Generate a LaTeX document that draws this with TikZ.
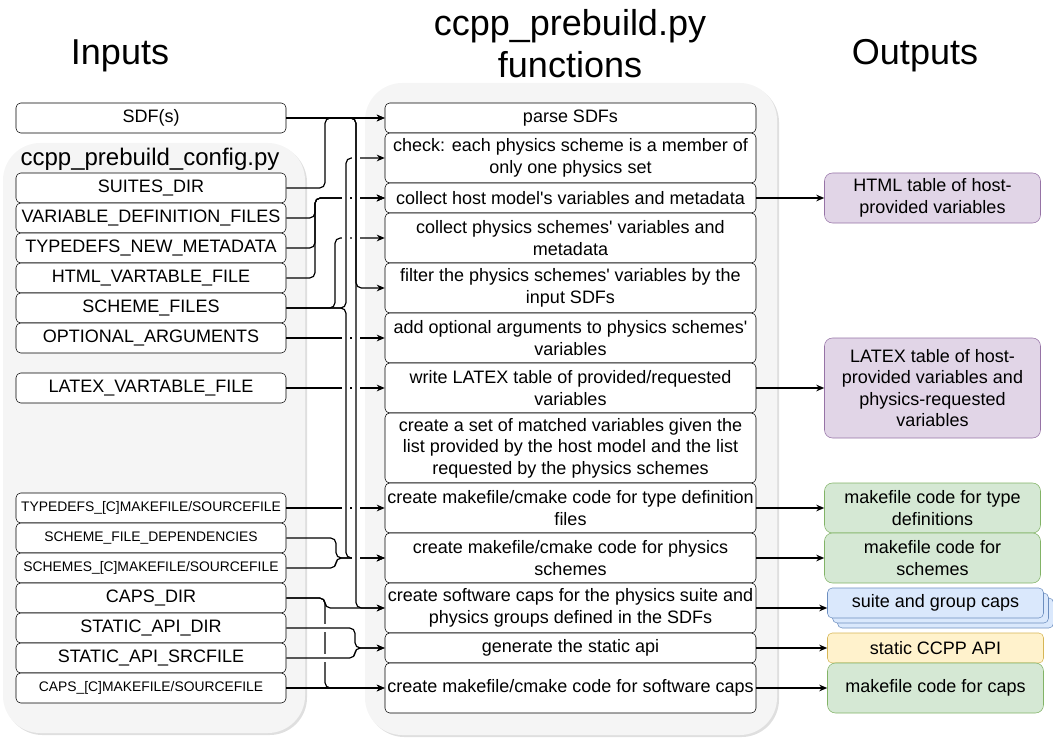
\documentclass[tikz,border=0pt]{standalone}
\usepackage{fontspec}
\setmainfont{Liberation Sans}
\usepackage{tikz}
\usetikzlibrary{arrows.meta, shadows}

\definecolor{panel}{HTML}{F5F5F5}
\definecolor{purplefill}{HTML}{E1D5E7}
\definecolor{purpleline}{HTML}{9673A6}
\definecolor{greenfill}{HTML}{D5E8D4}
\definecolor{greenline}{HTML}{82B366}
\definecolor{bluefill}{HTML}{DAE8FC}
\definecolor{blueline}{HTML}{6C8EBF}
\definecolor{yellowfill}{HTML}{FFF2CC}
\definecolor{yellowline}{HTML}{D6B656}

\begin{document}
\begin{tikzpicture}[x=0.75pt, y=-0.75pt,
  txt/.style={font=\fontsize{13.5}{16.2}\selectfont},
  small/.style={font=\fontsize{10.4}{12.5}\selectfont},
  title/.style={font=\fontsize{27}{31.5}\selectfont, align=center, inner sep=0pt},
  panelbox/.style={fill=panel, rounded corners=28pt, drop shadow={shadow xshift=1.5pt, shadow yshift=-1.5pt, opacity=.25}},
  inbox/.style={draw, fill=white, rounded corners=3.5pt, minimum width=202.5pt, minimum height=22.5pt, inner sep=0pt, txt},
  fnbox/.style={draw, fill=white, rounded corners=3.5pt, minimum width=278.25pt, minimum height=22.5pt, inner sep=0pt, align=center, txt},
  outbox/.style={draw, rounded corners=6pt, minimum width=162pt, inner sep=0pt, align=center, txt},
  htmlbox/.style={outbox, fill=purplefill, draw=purpleline},
  codebox/.style={outbox, fill=greenfill, draw=greenline},
  capsbox/.style={outbox, fill=bluefill, draw=blueline, rounded corners=3.5pt, minimum height=22.5pt},
  apibox/.style={outbox, fill=yellowfill, draw=yellowline, rounded corners=3.5pt, minimum height=22.5pt},
  link/.style={-{Stealth[length=6pt,width=5pt]}, rounded corners=4pt, line width=0.9pt},
  hop/.style={white, line width=3pt}
]
\useasboundingbox (0,0) rectangle (1053,738);

\fill[panelbox] (3,143) rectangle (305,733);
\fill[panelbox] (365,83) rectangle (777,735);

\node[title, anchor=base] (intitle) at (120,65) {Inputs};
\node[title, anchor=base] (outtitle) at (915,65) {Outputs};
\node[title, anchor=north] (fntitle) at (570,9) {ccpp\_prebuild.py\\functions};
\node[anchor=base, inner sep=0pt, font=\fontsize{18}{21}\selectfont] (cfgtitle) at (150,166) {ccpp\_prebuild\_config.py};

\node[inbox] (sdf) at (151,118) {SDF(s)};
\node[inbox] (suites) at (151,188) {SUITES\_DIR};
\node[inbox] (vardef) at (151,218) {VARIABLE\_DEFINITION\_FILES};
\node[inbox] (tdmeta) at (151,248) {TYPEDEFS\_NEW\_METADATA};
\node[inbox] (htmlfile) at (151,278) {HTML\_VARTABLE\_FILE};
\node[inbox] (schemes) at (151,308) {SCHEME\_FILES};
\node[inbox] (optargs) at (151,338) {OPTIONAL\_ARGUMENTS};
\node[inbox] (latexfile) at (151,388) {LATEX\_VARTABLE\_FILE};
\node[inbox, small] (tdmake) at (151,508) {TYPEDEFS\_[C]MAKEFILE/SOURCEFILE};
\node[inbox, small] (schdeps) at (151,538) {SCHEME\_FILE\_DEPENDENCIES};
\node[inbox, small] (schmake) at (151,568) {SCHEMES\_[C]MAKEFILE/SOURCEFILE};
\node[inbox] (capsdir) at (151,598) {CAPS\_DIR};
\node[inbox] (apidir) at (151,628) {STATIC\_API\_DIR};
\node[inbox] (apisrc) at (151,658) {STATIC\_API\_SRCFILE};
\node[inbox, small] (capsmake) at (151,688) {CAPS\_[C]MAKEFILE/SOURCEFILE};

\node[fnbox] (parse) at (570.5,118) {parse SDFs};
\node[fnbox, minimum height=37.5pt] (check) at (570.5,158) {check: each physics scheme is a member of\\only one physics set};
\node[fnbox] (hostvars) at (570.5,198) {collect host model\textquotesingle s variables and metadata};
\node[fnbox, minimum height=37.5pt] (physvars) at (570.5,238) {collect physics schemes\textquotesingle{} variables and\\metadata};
\node[fnbox, minimum height=37.5pt] (filter) at (570.5,288) {filter the physics schemes\textquotesingle{} variables by the\\input SDFs};
\node[fnbox, minimum height=37.5pt] (addopt) at (570.5,338) {add optional arguments to physics schemes\textquotesingle\\variables};
\node[fnbox, minimum height=37.5pt] (writelatex) at (570.5,388) {write LATEX table of provided/requested\\variables};
\node[fnbox, minimum height=52.5pt] (matched) at (570.5,448) {create a set of matched variables given the\\list provided by the host model and the list\\requested by the physics schemes};
\node[fnbox, minimum height=37.5pt] (mktype) at (570.5,508) {create makefile/cmake code for type definition\\files};
\node[fnbox, minimum height=37.5pt] (mkphys) at (570.5,558) {create makefile/cmake code for physics\\schemes};
\node[fnbox, minimum height=37.5pt] (swcaps) at (570.5,608) {create software caps for the physics suite and\\physics groups defined in the SDFs};
\node[fnbox] (static) at (570.5,648) {generate the static api};
\node[fnbox, minimum height=37.5pt] (mkcaps) at (570.5,688) {create makefile/cmake code for software caps};

\node[htmlbox, minimum height=37.5pt] (htmlout) at (932.5,198) {HTML table of host-\\provided variables};
\node[htmlbox, minimum height=75pt] (latexout) at (932.5,388) {LATEX table of host-\\provided variables and\\physics-requested\\variables};
\node[codebox, minimum height=37.5pt] (typeout) at (932.5,508) {makefile code for type\\definitions};
\node[codebox, minimum height=37.5pt] (physout) at (932.5,558) {makefile code for\\schemes};
\node[capsbox] (capsback) at (945.5,613) {};
\node[capsbox] (capsmid) at (940.5,608) {};
\node[capsbox] (capsout) at (935.5,603) {suite and group caps};
\node[apibox] (apiout) at (935.5,648) {static CCPP API};
\node[codebox, minimum height=37.5pt] (capscode) at (935.5,688) {makefile code for caps};

\draw[link] (optargs.east) -- (addopt.west);
\draw[link] (latexfile.east) -- (writelatex.west);
\draw[link] (tdmake.east) -- (mktype.west);
\foreach \f in {vardef, tdmeta, htmlfile}
  \draw[link] (\f.east) -| (315,198) -- (hostvars.west);
\draw[link] (schemes.east) -| (335,238) -- (physvars.west);

\foreach \y in {198, 238, 338, 388, 508}
  \draw[hop] (342,\y) -- (350,\y);
\draw[link] (schemes.east) -| (346,158) -- (check.west);
\draw[link] (schemes.east) -| (346,558) -- (mkphys.west);
\draw[link] (schdeps.east) -| (336,558) -- (mkphys.west);
\draw[link] (schmake.east) -| (336,558) -- (mkphys.west);

\foreach \y in {158, 198, 238, 338, 388, 508, 558}
  \draw[hop] (352,\y) -- (360,\y);
\draw[link] (sdf.east) -- (parse.west);
\draw[link] (sdf.east) -| (356,288) -- (filter.west);
\draw[link] (sdf.east) -| (356,608) -- (swcaps.west);
\draw[link] (suites.east) -| (325,118) -- (parse.west);

\draw[link] (capsdir.east) -| (325,608) -- (swcaps.west);
\draw[link] (capsdir.east) -| (325,688) -- (mkcaps.west);
\draw[link] (capsmake.east) -- (mkcaps.west);
\foreach \y in {628, 658}
  \draw[hop] (325,\y-4) -- (325,\y+4);
\draw[link] (apidir.east) -| (355,648) -- (static.west);
\draw[link] (apisrc.east) -| (355,648) -- (static.west);

\draw[link] (hostvars.east) -- (htmlout.west);
\draw[link] (writelatex.east) -- (latexout.west);
\draw[link] (mktype.east) -- (typeout.west);
\draw[link] (mkphys.east) -- (physout.west);
\draw[link] (swcaps.east) -- (swcaps.east -| capsout.west);
\draw[link] (static.east) -- (apiout.west);
\draw[link] (mkcaps.east) -- (capscode.west);
\end{tikzpicture}
\end{document}
